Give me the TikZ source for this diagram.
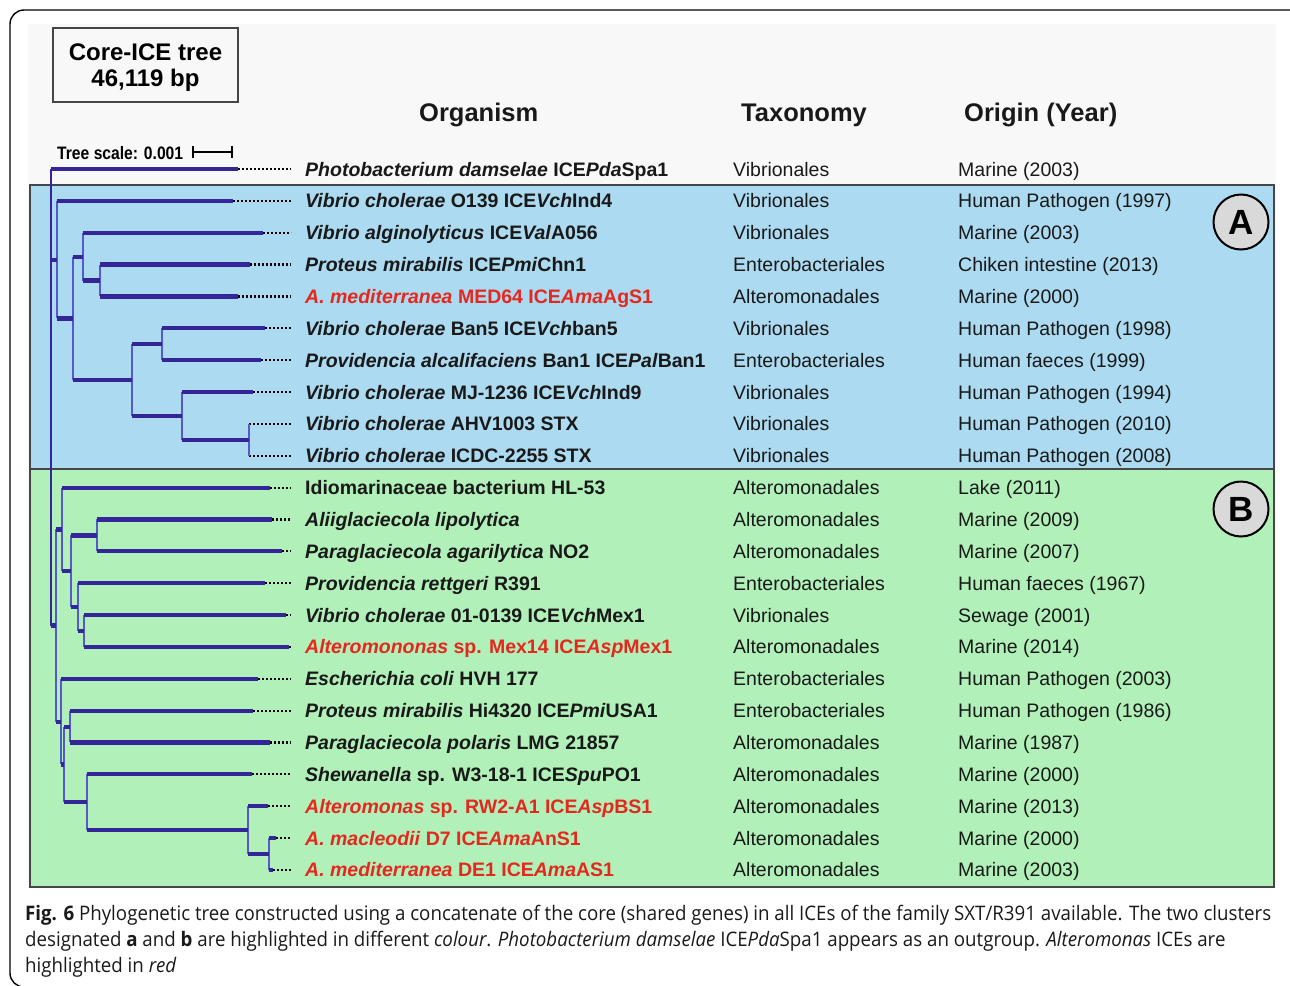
\documentclass[tikz,border=0pt]{standalone}
\usepackage{fontspec}
\setmainfont{Liberation Sans}
\newfontfamily\capfont{Open Sans}
\usetikzlibrary{positioning}

\definecolor{clA}{RGB}{172,218,240}
\definecolor{clB}{RGB}{178,240,186}
\definecolor{boxgray}{RGB}{70,70,70}
\definecolor{brdark}{RGB}{52,38,152}
\definecolor{brlight}{RGB}{88,88,205}
\definecolor{altred}{RGB}{228,40,30}
\definecolor{txt}{RGB}{25,25,25}
\definecolor{circfill}{RGB}{217,217,217}
\definecolor{bgpanel}{RGB}{248,248,248}
\newcommand{\capline}[1]{\scalebox{0.935}[1]{#1}}
% one clade: node, upper child, lower child
\newcommand{\clade}[3]{%
  \draw[vbr] (#1 |- #2) -- (#1 |- #3);
  \draw[hbr] (#1 |- #2) -- (#2);
  \draw[hbr] (#1 |- #3) -- (#3);}

\tikzset{
  hbr/.style={brdark, line width=4.2pt},
  vbr/.style={brlight, line width=1.6pt},
  rootbr/.style={brdark, line width=2.2pt},
  dotline/.style={black, line width=2.2pt, dash pattern=on 2pt off 2pt},
  orglab/.style={anchor=base west, inner sep=0pt, font=\fontsize{19.5}{22}\selectfont\bfseries},
  collab/.style={anchor=base west, inner sep=0pt, text=txt, font=\fontsize{19.5}{22}\selectfont},
  head/.style={anchor=base west, inner sep=0pt, text=txt, font=\fontsize{25.5}{28}\selectfont\bfseries},
  clustbox/.style={draw=boxgray, line width=1.8pt},
  clustmark/.style={circle, draw=black, line width=2pt, fill=circfill, minimum size=55pt, inner sep=0pt, font=\fontsize{35}{36}\selectfont\bfseries},
  capt/.style={anchor=base west, inner sep=0pt, text=txt, font=\capfont\fontsize{20}{22}\selectfont},
}

\begin{document}
\begin{tikzpicture}[x=1pt,y=-1pt]
\useasboundingbox (0,0) rectangle (1290,985);

% frame and panels
\draw[black, line width=1.4pt, rounded corners=14pt] (1300,10) -- (10,10) -- (10,987) -- (60,987);
\fill[bgpanel] (28,24) rectangle (1276,888);
\draw[clustbox, fill=clA] (30,185) rectangle (1274,469);
\draw[clustbox, fill=clB] (30,469) rectangle (1274,887);

% title and scale
\node[draw=boxgray, line width=1.5pt, minimum width=185pt, minimum height=74pt] (title) at (145.5,65) {};
\node[align=center, inner sep=0pt, font=\fontsize{24}{26}\selectfont\bfseries] (titletext) at (145.5,68)
      {Core-ICE tree\\46,119 bp};
\node[anchor=base west, inner sep=0pt, font=\fontsize{18}{20}\selectfont\bfseries] (tscale) at (57,159)
      {\scalebox{0.87}[1]{Tree scale: 0.001}};
\coordinate (sbl) at (192,152);
\coordinate (sbr) at (233,152);
\draw[{|-|}, line width=2pt] (sbl) -- (sbr);

% column heads
\node[head] (hOrg) at (419,121) {Organism};
\node[head] (hTax) at (741,121) {Taxonomy};
\node[head] (hOri) at (964,121) {Origin (Year)};

% leaves
\foreach \i/\tx/\col/\org/\tax/\ori in {
  0/238/txt/{\textit{Photobacterium damselae} ICE\textit{Pda}Spa1}/Vibrionales/{Marine (2003)},
  1/233/txt/{\textit{Vibrio cholerae} O139 ICE\textit{Vch}Ind4}/Vibrionales/{Human Pathogen (1997)},
  2/263/txt/{\textit{Vibrio alginolyticus} ICE\textit{Val}A056}/Vibrionales/{Marine (2003)},
  3/250/txt/{\textit{Proteus mirabilis} ICE\textit{Pmi}Chn1}/Enterobacteriales/{Chiken intestine (2013)},
  4/238/altred/{\textit{A. mediterranea} MED64 ICE\textit{Ama}AgS1}/Alteromonadales/{Marine (2000)},
  5/265/txt/{\textit{Vibrio cholerae} Ban5 ICE\textit{Vch}ban5}/Vibrionales/{Human Pathogen (1998)},
  6/261/txt/{\textit{Providencia alcalifaciens} Ban1 ICE\textit{Pal}Ban1}/Enterobacteriales/{Human faeces (1999)},
  7/253/txt/{\textit{Vibrio cholerae} MJ-1236 ICE\textit{Vch}Ind9}/Vibrionales/{Human Pathogen (1994)},
  8/249/txt/{\textit{Vibrio cholerae} AHV1003 STX}/Vibrionales/{Human Pathogen (2010)},
  9/249/txt/{\textit{Vibrio cholerae} ICDC-2255 STX}/Vibrionales/{Human Pathogen (2008)},
  10/270/txt/{Idiomarinaceae bacterium HL-53}/Alteromonadales/{Lake (2011)},
  11/272/txt/{\textit{Aliiglaciecola lipolytica}}/Alteromonadales/{Marine (2009)},
  12/282/txt/{\textit{Paraglaciecola agarilytica} NO2}/Alteromonadales/{Marine (2007)},
  13/265/txt/{\textit{Providencia rettgeri} R391}/Enterobacteriales/{Human faeces (1967)},
  14/286/txt/{\textit{Vibrio cholerae} 01-0139 ICE\textit{Vch}Mex1}/Vibrionales/{Sewage (2001)},
  15/289/altred/{\textit{Alteromononas} sp. Mex14 ICE\textit{Asp}Mex1}/Alteromonadales/{Marine (2014)},
  16/258/txt/{\textit{Escherichia coli} HVH 177}/Enterobacteriales/{Human Pathogen (2003)},
  17/253/txt/{\textit{Proteus mirabilis} Hi4320 ICE\textit{Pmi}USA1}/Enterobacteriales/{Human Pathogen (1986)},
  18/270/txt/{\textit{Paraglaciecola polaris} LMG 21857}/Alteromonadales/{Marine (1987)},
  19/252/txt/{\textit{Shewanella} sp. W3-18-1 ICE\textit{Spu}PO1}/Alteromonadales/{Marine (2000)},
  20/268/altred/{\textit{Alteromonas} sp. RW2-A1 ICE\textit{Asp}BS1}/Alteromonadales/{Marine (2013)},
  21/276/altred/{\textit{A. macleodii} D7 ICE\textit{Ama}AnS1}/Alteromonadales/{Marine (2000)},
  22/273/altred/{\textit{A. mediterranea} DE1 ICE\textit{Ama}AS1}/Alteromonadales/{Marine (2003)}}{
  \pgfmathsetmacro\yy{169+31.86*\i}
  \coordinate (t\i) at (\tx,\yy);
  \coordinate (d\i) at (291,\yy);
  \draw[dotline] (t\i) -- (d\i);
  \node[orglab, text=\col] (org\i) at (305,\yy+7) {\org};
  \node[collab] (tax\i) at (733,\yy+7) {\tax};
  \node[collab] (ori\i) at (958,\yy+7) {\ori};
}

% internal nodes
\coordinate (nR) at (51,169);
\coordinate (nA) at (57,259.6);
\coordinate (nA1) at (73,318.4);
\coordinate (nA2) at (83,256.6);
\coordinate (nA2b) at (100,280.5);
\coordinate (nA3) at (132,380.1);
\coordinate (nA3a) at (162,344.3);
\coordinate (nA3b) at (182,415.9);
\coordinate (nA3c) at (249,439.8);
\coordinate (nB) at (56,625.5);
\coordinate (nB1) at (62,529.4);
\coordinate (nB1a) at (71,571.3);
\coordinate (nB1a1) at (97,535.4);
\coordinate (nB1a2) at (78,607.1);
\coordinate (nB1a2b) at (84,631.0);
\coordinate (nB2) at (61,721.6);
\coordinate (nB2a) at (64,764.4);
\coordinate (nB2a1) at (70,726.6);
\coordinate (nB2a2) at (87,802.2);
\coordinate (nB2a2b) at (248,830.1);
\coordinate (nB2a2b2) at (269,854.0);

% cluster A
\draw[vbr] (nA3c |- t8) -- (nA3c |- t9);
\clade{nA3b}{t7}{nA3c}
\clade{nA3a}{t5}{t6}
\clade{nA3}{nA3a}{nA3b}
\clade{nA2b}{t3}{t4}
\clade{nA2}{t2}{nA2b}
\clade{nA1}{nA2}{nA3}
\clade{nA}{t1}{nA1}
% cluster B
\clade{nB2a2b2}{t21}{t22}
\clade{nB2a2b}{t20}{nB2a2b2}
\clade{nB2a2}{t19}{nB2a2b}
\clade{nB2a1}{t17}{t18}
\clade{nB2a}{nB2a1}{nB2a2}
\clade{nB2}{t16}{nB2a}
\clade{nB1a2b}{t14}{t15}
\clade{nB1a2}{t13}{nB1a2b}
\clade{nB1a1}{t11}{t12}
\clade{nB1a}{nB1a1}{nB1a2}
\clade{nB1}{t10}{nB1a}
\clade{nB}{nB1}{nB2}
% root
\draw[rootbr] (nR |- t0) -- (nR |- nB);
\draw[hbr] (nR |- t0) -- (t0);
\draw[hbr] (nR |- nA) -- (nA);
\draw[hbr] (nR |- nB) -- (nB);

% cluster marks
\node[clustmark] (markA) at (1241,222) {A};
\node[clustmark] (markB) at (1241,509) {B};

% caption
\node[capt] (cap1) at (25,920) {\capline{\textbf{Fig. 6} Phylogenetic tree constructed using a concatenate of the core (shared genes) in all ICEs of the family SXT/R391 available. The two clusters}};
\node[capt] (cap2) at (25,946) {\capline{designated \textbf{a} and \textbf{b} are highlighted in different \textit{colour}. \textit{Photobacterium damselae} ICE\textit{Pda}Spa1 appears as an outgroup. \textit{Alteromonas} ICEs are}};
\node[capt] (cap3) at (25,972) {\capline{highlighted in \textit{red}}};
\end{tikzpicture}
\end{document}
